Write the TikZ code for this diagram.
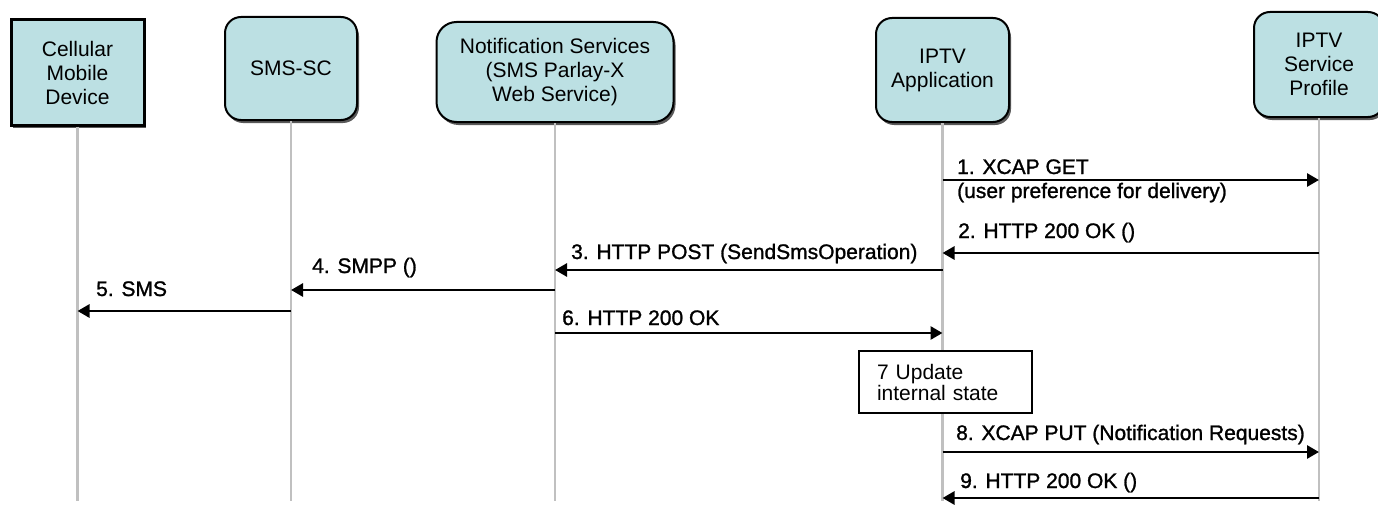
\documentclass[tikz,border=0pt]{standalone}
\usepackage{fontspec}
\setmainfont{Liberation Sans}
\newfontfamily\lblfont[FakeBold=1.2]{Liberation Sans}
\usetikzlibrary{arrows.meta,shadows}
\definecolor{boxfill}{HTML}{BCE0E3}
\definecolor{lifegray}{HTML}{C0C0C0}
\begin{document}
\begin{tikzpicture}[x=1pt,y=-1pt,
  hdr/.style={draw=black, line width=2pt, fill=boxfill, align=center, inner sep=0pt,
    font=\fontsize{21}{24}\selectfont,
    drop shadow={shadow xshift=2pt, shadow yshift=-3pt, fill=black!65, opacity=1}},
  rhdr/.style={hdr, rounded corners=16pt},
  shdr/.style={hdr, line width=3pt},
  life/.style={draw=lifegray, line width=2.5pt},
  msg/.style={draw=black, line width=2.8pt, -{Triangle[length=12pt,width=13pt]}},
  lbl/.style={anchor=base west, inner sep=0pt, font=\lblfont\fontsize{21}{24}\selectfont},
  notebox/.style={draw=black, line width=1.5pt, fill=white, align=left,
    minimum width=173pt, minimum height=62pt, text width=137pt, inner xsep=18pt,
    font=\fontsize{21}{21}\selectfont}
]
\useasboundingbox (0,0) rectangle (1378,511);

% header boxes
\node[shdr, minimum width=133pt, minimum height=105pt] (cmd) at (77.5,72.5) {Cellular\\Mobile\\Device};
\node[rhdr, minimum width=132pt, minimum height=103pt] (smsc) at (291,68.5) {SMS-SC};
\node[rhdr, rounded corners=20pt, minimum width=237pt, minimum height=100pt] (notif) at (555,72) {Notification Services\\(SMS Parlay-X\\Web Service)};
\node[rhdr, minimum width=133pt, minimum height=104pt] (app) at (942.5,70) {IPTV\\Application};
\node[rhdr, minimum width=130pt, minimum height=105pt] (prof) at (1319,64.5) {IPTV\\Service\\Profile};

% lifeline ends
\coordinate (lend) at (0,501);

% lifelines
\draw[life] (cmd.south) -- (cmd.south |- lend);
\draw[life] (smsc.south) -- (smsc.south |- lend);
\draw[life] (notif.south) -- (notif.south |- lend);
\draw[life] (app.south) -- (app.south |- lend);
\draw[life] (prof.south) -- (prof.south |- lend);

% row coordinates
\coordinate (r1) at (0,180);
\coordinate (r2) at (0,253);
\coordinate (r3) at (0,270);
\coordinate (r4) at (0,290);
\coordinate (r5) at (0,311);
\coordinate (r6) at (0,333);
\coordinate (r8) at (0,452);
\coordinate (r9) at (0,498);

% messages
\draw[msg] (app.south |- r1) -- (prof.south |- r1);
\node[lbl] (l1) at (957,174) {1. XCAP GET};
\node[lbl] (l1b) at (957,198) {(user preference for delivery)};

\draw[msg] (prof.south |- r2) -- (app.south |- r2);
\node[lbl] (l2) at (958,238) {2. HTTP 200 OK ()};

\draw[msg] (app.south |- r3) -- (notif.south |- r3);
\node[lbl] (l3) at (571,259) {3. HTTP POST (SendSmsOperation)};

\draw[msg] (notif.south |- r4) -- (smsc.south |- r4);
\node[lbl] (l4) at (312,273) {4. SMPP ()};

\draw[msg] (smsc.south |- r5) -- (cmd.south |- r5);
\node[lbl] (l5) at (96,296) {5. SMS};

\draw[msg] (notif.south |- r6) -- (app.south |- r6);
\node[lbl] (l6) at (562,325) {6. HTTP 200 OK};

\node[notebox] (n7) at (945.5,382) {7 Update\\internal state};

\draw[msg] (app.south |- r8) -- (prof.south |- r8);
\node[lbl] (l8) at (956,440) {8. XCAP PUT (Notification Requests)};

\draw[msg] (prof.south |- r9) -- (app.south |- r9);
\node[lbl] (l9) at (960,488) {9. HTTP 200 OK ()};
\end{tikzpicture}
\end{document}
